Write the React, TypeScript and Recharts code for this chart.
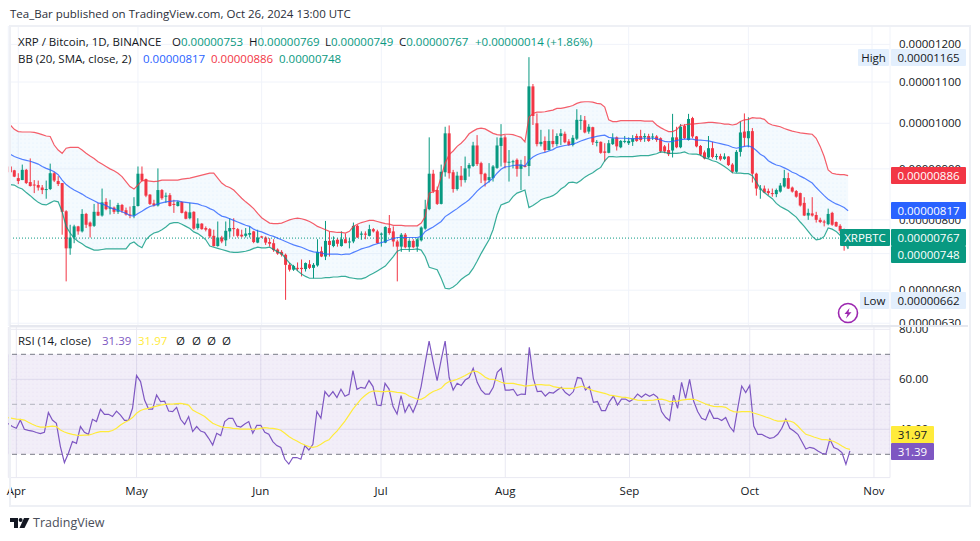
import React from "react";
import { ComposedChart, CartesianGrid, XAxis, YAxis, Bar, Line, Area, ReferenceLine, ReferenceArea } from "recharts";

// prices are in units of 0.00000001 BTC
const opens = [
  905,897,881,877,898,873,868,867,862,857,
  859,891,875,871,816,749,768,788,779,811,
  795,789,815,808,834,821,823,815,828,818,
  810,808,826,890,879,848,831,827,857,844,
  847,830,826,834,815,803,815,785,793,785,
  783,771,753,768,763,779,785,783,773,771,
  773,779,759,770,768,760,758,747,743,738,
  721,713,716,716,714,722,716,720,744,735,
  762,753,764,753,765,760,761,789,773,775,
  771,783,779,773,759,785,779,761,752,773,
  751,762,752,763,784,820,890,857,830,893,
  977,893,859,886,877,901,906,950,912,890,
  877,881,902,949,968,913,914,919,900,907,
  906,1089,1000,953,960,940,960,953,971,976,
  959,951,965,1006,1007,981,991,957,958,937,
  934,953,968,946,958,955,958,971,971,968,
  971,968,970,966,948,940,939,968,946,994,
  962,1012,970,949,935,924,944,925,927,921,
  926,909,894,936,981,966,982,890,859,860,
  855,851,849,854,864,881,862,855,851,832,
  808,812,809,800,797,792,813,796,789,782,753,
];
const highs = [
  912,898,891,909,900,922,877,876,867,876,
  911,894,885,871,818,791,791,789,820,813,
  797,830,832,860,841,838,825,832,830,823,
  825,843,905,905,880,849,838,901,859,852,
  851,838,836,835,817,832,816,803,794,788,
  785,782,797,771,797,803,803,785,782,785,
  788,780,782,771,770,767,765,749,746,740,
  724,721,725,730,725,729,724,765,752,798,
  778,770,767,779,775,767,795,791,779,779,
  791,785,782,777,788,809,788,764,776,776,
  765,765,767,788,838,968,898,864,909,992,
  995,898,894,906,926,912,958,973,915,892,
  912,908,968,998,973,940,919,922,919,927,
  1165,1095,1023,985,970,986,986,977,987,981,
  964,973,1033,1019,1017,998,992,962,959,955,
  962,977,970,962,971,968,973,976,985,977,
  976,977,973,968,951,955,1022,992,998,998,
  1022,1015,971,951,939,971,958,932,932,933,
  927,912,940,1004,1023,1014,989,892,867,866,
  860,860,860,871,898,892,864,857,852,843,
  821,843,815,804,800,821,815,797,792,784,769,
];
const lows = [
  891,883,869,877,869,864,851,856,849,840,
  857,873,865,773,694,738,758,773,777,785,
  768,787,807,806,818,810,811,811,813,808,
  803,803,825,874,843,828,825,825,838,832,
  825,813,825,812,801,801,782,782,782,779,
  767,752,752,758,753,768,770,768,768,768,
  768,758,758,767,755,752,743,738,735,665,
  710,711,711,702,710,714,699,718,734,729,
  735,751,752,752,758,749,758,767,764,765,
  770,777,757,752,758,773,752,694,743,749,
  743,749,743,761,782,818,851,828,829,884,
  880,852,856,864,872,884,904,906,871,864,
  872,874,900,905,901,874,901,884,857,903,
  885,996,948,948,935,939,946,948,951,955,
  949,948,962,985,977,976,951,948,932,915,
  933,951,939,944,955,951,949,958,958,958,
  958,962,958,934,933,927,924,944,944,964,
  961,966,946,927,920,922,922,919,917,919,
  906,891,892,926,948,946,872,846,840,851,
  847,844,843,852,862,859,852,842,825,807,
  800,806,795,794,788,790,789,787,776,745,749,
];
const closes = [
  893,884,875,898,871,865,867,862,857,859,
  891,876,869,815,749,768,788,779,811,791,
  788,815,808,833,820,823,815,828,817,810,
  808,826,890,876,846,830,827,857,841,846,
  826,828,834,813,802,814,784,793,783,782,
  770,753,768,761,780,785,783,771,770,775,
  776,760,768,768,759,757,746,740,738,721,
  713,719,715,714,724,716,721,743,735,762,
  755,763,757,765,758,761,789,768,775,773,
  783,779,758,775,787,776,761,752,773,751,
  762,751,765,786,820,890,855,830,894,977,
  891,859,886,877,901,908,950,910,889,876,
  883,905,950,967,913,915,916,900,909,904,
  1089,1017,953,958,940,960,953,971,977,957,
  951,967,1008,1008,979,992,957,958,934,934,
  955,966,948,960,960,960,966,960,962,971,
  960,970,962,937,937,931,968,946,992,966,
  1010,970,948,930,922,944,925,927,920,926,
  908,894,936,979,967,982,890,860,860,852,
  851,849,857,866,881,860,854,844,827,808,
  813,808,800,796,795,811,791,788,780,753,767,
];
const bbUpper = [
  996,986,981,980,980,980,979,977,974,971,
  970,951,940,933,944,946,946,946,940,933,
  927,922,915,910,905,900,896,891,884,874,
  864,859,867,876,876,875,874,875,877,877,
  877,877,877,879,880,881,883,885,887,889,
  891,891,881,871,865,862,857,849,841,834,
  828,821,812,804,799,794,793,793,794,797,
  800,802,803,802,800,797,793,788,785,782,
  779,778,777,777,776,779,788,792,795,797,
  799,799,797,795,793,792,790,790,790,789,
  789,789,789,794,806,851,854,857,884,912,
  930,938,948,955,964,976,982,987,989,987,
  982,977,974,973,975,975,974,971,968,958,
  1014,1023,1026,1026,1027,1029,1031,1035,1035,1037,
  1039,1042,1047,1050,1051,1051,1050,1047,1046,1038,
  1008,1004,1004,1006,1006,1006,1006,1006,1006,1005,
  1005,1005,996,990,985,981,981,985,995,996,
  998,998,999,1000,1001,1002,1002,1001,1000,998,
  998,996,998,1004,1008,1009,1013,1012,1012,1009,
  1000,996,994,992,988,985,982,980,978,977,
  976,975,966,948,926,898,891,889,888,888,886,
];
const bbBasis = [
  931,926,923,920,918,916,913,910,905,901,
  898,894,888,877,868,862,857,853,849,844,
  840,836,832,830,827,823,820,818,815,812,
  808,807,812,816,821,825,827,830,832,834,
  835,836,836,834,833,832,831,830,827,825,
  821,818,812,807,805,802,799,796,793,790,
  788,783,780,778,775,772,770,767,764,761,
  758,755,753,751,748,745,743,742,741,739,
  739,739,739,738,739,739,742,745,748,750,
  752,755,757,759,761,764,766,768,768,768,
  768,768,768,770,779,783,787,792,797,806,
  811,816,821,827,832,838,846,855,862,868,
  874,881,891,899,904,905,907,908,908,906,
  918,925,930,933,935,938,941,946,948,950,
  951,953,956,960,963,966,968,970,972,973,
  968,967,966,966,966,965,965,965,966,966,
  966,966,965,962,959,958,959,961,963,964,
  964,964,962,962,961,960,958,956,954,952,
  950,946,944,946,948,949,946,939,931,926,
  917,912,908,906,902,898,893,890,885,881,
  876,871,862,854,846,839,834,830,827,823,817,
];
const bbLower = [
  868,867,862,859,852,846,839,833,829,828,
  832,836,834,815,788,776,767,761,757,752,
  749,746,746,747,748,748,748,748,748,748,
  757,760,754,750,764,771,776,778,782,787,
  793,795,795,792,788,784,778,775,770,764,
  753,751,749,747,745,743,742,742,743,744,
  746,749,751,750,750,751,747,743,740,732,
  724,718,711,706,702,699,699,699,699,700,
  700,701,701,702,702,700,699,698,698,700,
  704,707,711,715,719,727,735,744,747,747,
  747,747,748,746,735,717,715,713,699,683,
  682,685,690,697,702,706,715,727,740,752,
  764,782,809,828,831,834,844,851,854,857,
  823,827,832,838,841,843,846,851,859,864,
  872,873,871,876,883,888,892,898,903,917,
  926,926,925,926,926,926,926,927,928,928,
  928,930,932,936,935,933,933,933,934,936,
  932,931,931,929,923,921,917,915,910,905,
  899,892,891,891,890,890,886,873,860,852,
  846,840,831,825,821,817,811,805,796,788,
  779,770,764,765,770,785,783,779,772,764,748,
];
const rsiValues = [
  42.3,41.1,40.4,43.7,40.0,39.6,39.3,38.7,38.3,38.8,
  46.7,43.7,42.4,33.1,26.7,30.4,35.1,34.4,41.1,38.8,
  38.0,44.0,43.1,48.0,46.0,46.0,45.1,47.3,45.7,43.6,
  43.6,48.4,61.5,59.1,51.7,48.1,48.1,53.7,51.1,51.3,
  47.3,47.1,48.8,44.0,42.0,45.1,39.1,41.1,39.3,38.7,
  36.4,33.7,38.4,37.5,43.1,44.4,44.4,41.3,40.9,42.1,
  43.1,38.4,41.6,41.6,38.8,38.0,35.1,33.5,32.7,28.0,
  26.1,28.7,28.7,28.0,33.5,31.7,34.0,47.1,44.4,55.1,
  53.1,55.1,52.7,56.0,53.2,54.0,63.5,56.0,56.8,56.4,
  59.5,57.1,49.7,49.5,58.4,56.1,49.1,46.1,53.5,46.8,
  50.0,46.8,50.7,57.1,66.4,75.3,67.1,59.5,67.7,75.3,
  60.7,55.7,58.4,57.5,59.7,60.7,64.4,58.8,55.7,54.1,
  54.1,56.8,62.8,64.4,55.7,55.7,56.0,53.5,54.1,54.0,
  72.8,60.4,55.1,55.3,53.3,54.8,54.5,55.7,56.8,54.7,
  53.5,55.1,60.7,60.4,55.7,57.1,50.8,51.1,47.5,47.5,
  51.1,53.3,49.7,52.1,52.1,51.1,52.1,54.1,52.8,54.1,
  53.2,54.0,52.8,47.1,44.8,43.5,53.7,48.4,58.8,52.4,
  60.0,51.3,47.1,44.4,43.7,47.7,44.4,44.4,43.5,44.7,
  41.1,39.1,48.4,57.3,54.7,57.5,41.3,38.0,38.0,37.1,
  36.4,36.7,38.0,40.4,44.1,40.4,39.3,38.0,35.1,32.1,
  32.8,32.4,31.3,30.4,30.1,36.0,32.7,32.0,30.7,26.0,31.39,
];
const rsiAverage = [
  44.7,44.4,44.1,44.0,43.7,42.8,42.0,41.3,40.9,40.9,
  41.1,41.3,41.1,39.7,38.9,38.4,38.0,37.7,37.6,37.7,
  37.7,38.1,38.7,39.1,39.1,39.1,39.5,40.4,41.7,42.7,
  43.5,44.7,46.4,47.5,48.1,48.4,48.9,49.3,49.7,50.0,
  50.1,50.1,50.3,50.4,50.1,49.7,47.7,46.8,46.0,45.1,
  43.7,42.4,41.7,41.1,40.8,40.7,40.4,40.3,40.1,40.1,
  40.1,40.0,40.1,40.4,40.7,40.5,40.4,40.1,39.6,38.4,
  37.1,36.1,35.3,34.4,33.7,33.1,32.8,33.1,34.0,35.1,
  35.8,37.7,39.3,41.3,43.3,45.7,48.1,50.1,52.1,53.5,
  54.7,55.3,55.3,55.1,55.1,55.3,55.1,54.8,54.7,54.3,
  53.3,52.7,52.1,52.0,52.8,54.1,55.1,55.7,56.4,58.1,
  59.1,59.5,60.0,60.7,61.5,62.4,63.3,63.1,62.1,60.8,
  60.1,60.0,59.5,58.8,58.4,58.4,58.4,58.0,57.7,57.3,
  57.5,57.7,57.9,57.9,57.7,57.7,57.1,56.8,56.5,56.4,
  56.4,56.4,56.8,57.2,56.7,56.0,55.5,55.1,54.7,54.3,
  53.7,53.5,53.2,52.9,52.8,52.5,52.1,51.7,51.6,51.5,
  51.6,51.7,52.0,52.1,51.7,51.1,51.2,51.3,51.7,51.9,
  52.1,52.0,51.5,50.8,50.1,49.6,49.2,49.1,49.1,48.8,
  47.7,47.1,46.9,47.1,47.1,47.1,46.5,46.0,45.5,44.9,
  44.4,43.7,43.3,43.3,43.5,43.3,42.7,41.3,39.6,38.0,
  37.5,36.9,36.4,35.9,35.9,35.6,35.1,34.3,33.3,32.4,31.97,
];
const priceTicks = [630, 680, 740, 800, 900, 1000, 1100, 1200];
const rsiTicks = [40, 60, 80];
const monthNames = ["Mar", "Apr", "May", "Jun", "Jul", "Aug", "Sep", "Oct", "Nov"];
const monthLengths = [31, 30, 31, 30, 31, 31, 30, 31, 5];
const monthTicks = ["Apr 1", "May 1", "Jun 1", "Jul 1", "Aug 1", "Sep 1", "Oct 1", "Nov 1"];

const dayLabels: string[] = [];
monthNames.forEach((name, m) => {
  for (let d = m === 0 ? 30 : 1; d <= monthLengths[m]; d++) dayLabels.push(`${name} ${d}`);
});

const rows = dayLabels.map((day, i) => {
  if (i >= opens.length) return { day };
  return {
    day,
    open: opens[i],
    high: highs[i],
    low: lows[i],
    close: closes[i],
    range: [lows[i], highs[i]],
    band: [bbLower[i], bbUpper[i]],
    upper: bbUpper[i],
    basis: bbBasis[i],
    lower: bbLower[i],
    rsi: rsiValues[i],
    rsiMa: rsiAverage[i],
  };
});

const UP = "#089981";
const DOWN = "#f23645";
const FONT = "'Open Sans', sans-serif";
const INK = "#131722";

function Candle(props: any) {
  const { x, y, width, height, payload } = props;
  if (payload.open == null || !height) return <g />;
  const span = Math.log(payload.high) - Math.log(payload.low);
  const toY = (v: number) => y + (height * (Math.log(payload.high) - Math.log(v))) / span;
  const top = toY(Math.max(payload.open, payload.close));
  const bottom = toY(Math.min(payload.open, payload.close));
  const color = payload.close >= payload.open ? UP : DOWN;
  const mid = x + width / 2;
  return (
    <g>
      <rect x={mid - 0.5} y={y} width={1} height={height} fill={color} />
      <rect x={mid - 1.5} y={top} width={3} height={Math.max(bottom - top, 1)} fill={color} />
    </g>
  );
}

function Txt({ x, y, color = INK, size = 11.5, children }: any) {
  return (
    <div style={{ position: "absolute", left: x, top: y - 10, height: 20, lineHeight: "20px", color, fontSize: size, fontFamily: FONT, whiteSpace: "pre" }}>
      {children}
    </div>
  );
}

function Badge({ x, y, w, h, bg, color = "#fff", children }: any) {
  return (
    <div style={{ position: "absolute", left: x, top: y, width: w, height: h, lineHeight: `${h}px`, background: bg, color, fontSize: 11.5, fontFamily: FONT, textAlign: "center", borderRadius: 1 }}>
      {children}
    </div>
  );
}

export default function App() {
  return (
    <div style={{ position: "absolute", left: 0, top: 0, width: 980, height: 541, background: "#fff", overflow: "hidden" }}>
      <Txt x={10} y={14} color="#2a2e39">Tea_Bar published on TradingView.com, Oct 26, 2024 13:00 UTC</Txt>

      <div style={{ position: "absolute", left: 0, top: 26 }}>
        <ComposedChart width={970} height={300} data={rows} margin={{ top: 0, right: 0, bottom: 0, left: 8.3 }} barCategoryGap={0}>
          <defs>
            <pattern id="bandDots" width="4" height="4" patternUnits="userSpaceOnUse">
              <rect width="4" height="4" fill="#2196f3" fillOpacity="0.05" />
              <circle cx="1" cy="1" r="0.5" fill="#2196f3" fillOpacity="0.12" />
            </pattern>
          </defs>
          <CartesianGrid stroke="#f0f3fa" />
          <XAxis dataKey="day" hide ticks={monthTicks} interval={0} />
          <YAxis
            orientation="right"
            scale="log"
            domain={[626, 1252]}
            allowDataOverflow
            ticks={priceTicks}
            interval={0}
            width={80}
            axisLine={false}
            tickLine={false}
            tickMargin={3}
            tick={{ fill: INK, fontSize: 11.5, fontFamily: FONT }}
            tickFormatter={(v: number) => (v / 1e8).toFixed(8)}
          />
          <Area dataKey="band" stroke="none" fill="url(#bandDots)" fillOpacity={1} isAnimationActive={false} />
          <ReferenceLine y={767} stroke={UP} strokeDasharray="1 2" />
          <Line dataKey="upper" stroke={DOWN} strokeWidth={1.2} strokeOpacity={0.8} dot={false} isAnimationActive={false} />
          <Line dataKey="lower" stroke={UP} strokeWidth={1.2} strokeOpacity={0.8} dot={false} isAnimationActive={false} />
          <Line dataKey="basis" stroke="#2962ff" strokeWidth={1.2} strokeOpacity={0.8} dot={false} isAnimationActive={false} />
          <Bar dataKey="range" shape={Candle} isAnimationActive={false} />
        </ComposedChart>
      </div>

      <div style={{ position: "absolute", left: 0, top: 327 }}>
        <ComposedChart width={970} height={178} data={rows} margin={{ top: 0, right: 0, bottom: 0, left: 8.3 }}>
          <defs>
            <pattern id="rsiDots" width="4" height="4" patternUnits="userSpaceOnUse">
              <rect width="4" height="4" fill="#7e57c2" fillOpacity="0.1" />
              <circle cx="1" cy="1" r="0.5" fill="#7e57c2" fillOpacity="0.15" />
            </pattern>
          </defs>
          <ReferenceArea y1={30} y2={70} fill="url(#rsiDots)" fillOpacity={1} stroke="none" />
          <CartesianGrid stroke="#e9e9f2" />
          <XAxis
            dataKey="day"
            ticks={monthTicks}
            interval={0}
            height={27.4}
            axisLine={false}
            tickLine={false}
            tickMargin={3}
            tick={{ fill: INK, fontSize: 11.5, fontFamily: FONT }}
            tickFormatter={(v: string) => v.split(" ")[0]}
          />
          <YAxis
            orientation="right"
            domain={[20.68, 80.92]}
            allowDataOverflow
            ticks={rsiTicks}
            interval={0}
            width={80}
            axisLine={false}
            tickLine={false}
            tickMargin={3}
            tick={{ fill: INK, fontSize: 11.5, fontFamily: FONT }}
            tickFormatter={(v: number) => v.toFixed(2)}
          />
          <ReferenceLine y={70} stroke="#787b86" strokeDasharray="5 4" />
          <ReferenceLine y={50} stroke="#b2b5be" strokeDasharray="5 4" />
          <ReferenceLine y={30} stroke="#787b86" strokeDasharray="5 4" />
          <Line dataKey="rsi" stroke="#7e57c2" strokeWidth={1.2} dot={false} isAnimationActive={false} />
          <Line dataKey="rsiMa" stroke="#ffeb3b" strokeWidth={1.2} dot={false} isAnimationActive={false} />
        </ComposedChart>
      </div>

      {/* frame and pane separator */}
      <div style={{ position: "absolute", left: 9, top: 25, width: 958, height: 478, border: "2px solid #eef0f5" }} />
      <div style={{ position: "absolute", left: 10, top: 325, width: 958, height: 2, background: "#e6e8ef" }} />

      <Txt x={18} y={42}>XRP / Bitcoin, 1D, BINANCE</Txt>
      <Txt x={172} y={42}>O<span style={{ color: UP }}>0.00000753</span></Txt>
      <Txt x={249} y={42}>H<span style={{ color: UP }}>0.00000769</span></Txt>
      <Txt x={325} y={42}>L<span style={{ color: UP }}>0.00000749</span></Txt>
      <Txt x={399} y={42}>C<span style={{ color: UP }}>0.00000767</span></Txt>
      <Txt x={475} y={42} color={UP}>+0.00000014 (+1.86%)</Txt>
      <Txt x={18} y={59}>BB (20, SMA, close, 2)</Txt>
      <Txt x={143} y={59} color="#2962ff">0.00000817</Txt>
      <Txt x={211} y={59} color={DOWN}>0.00000886</Txt>
      <Txt x={279} y={59} color={UP}>0.00000748</Txt>

      <Txt x={18} y={341}>RSI (14, close)</Txt>
      <Txt x={102} y={341} color="#7e57c2">31.39</Txt>
      <Txt x={138} y={341} color="#ffeb3b">31.97</Txt>
      <Txt x={176} y={341}>Ø</Txt>
      <Txt x={192} y={341}>Ø</Txt>
      <Txt x={207} y={341}>Ø</Txt>
      <Txt x={222} y={341}>Ø</Txt>

      <Badge x={858} y={49} w={31} h={17} bg="#e3effd" color={INK}>High</Badge>
      <Badge x={891} y={49} w={75} h={17} bg="#e3effd" color={INK}>0.00001165</Badge>
      <Badge x={860} y={292} w={29} h={17} bg="#e3effd" color={INK}>Low</Badge>
      <Badge x={891} y={292} w={75} h={17} bg="#e3effd" color={INK}>0.00000662</Badge>
      <Badge x={891} y={167} w={75} h={17} bg={DOWN}>0.00000886</Badge>
      <Badge x={891} y={202} w={75} h={17} bg="#2962ff">0.00000817</Badge>
      <Badge x={840} y={229} w={50} h={17} bg={UP}>XRPBTC</Badge>
      <Badge x={891} y={229} w={75} h={17} bg={UP}>0.00000767</Badge>
      <Badge x={891} y={246} w={75} h={17} bg={UP}>0.00000748</Badge>
      <Badge x={891} y={426} w={43} h={17} bg="#ffeb3b" color={INK}>31.97</Badge>
      <Badge x={891} y={443} w={43} h={17} bg="#7e57c2">31.39</Badge>

      {/* lightning mark */}
      <svg style={{ position: "absolute", left: 837, top: 302 }} width={22} height={22}>
        <circle cx={11} cy={11} r={9.5} fill="#fff" stroke="#9c27b0" strokeWidth={1.6} />
        <path d="M12.5 6 L7.5 12 L10.5 12 L9 16.5 L14.5 10.2 L11.5 10.2 Z" fill="#9c27b0" />
      </svg>

      {/* TradingView logo */}
      <svg style={{ position: "absolute", left: 10, top: 518 }} width={20} height={11}>
        <path d="M0 0 H8 V10 H4 V4 H0 Z" fill="#131722" />
        <circle cx={10.6} cy={2} r={2} fill="#131722" />
        <path d="M14 0 H19.5 L14.5 10 H9.5 Z" fill="#131722" />
      </svg>
      <Txt x={33} y={523} color="#4a4e59" size={12.5}>TradingView</Txt>
    </div>
  );
}
